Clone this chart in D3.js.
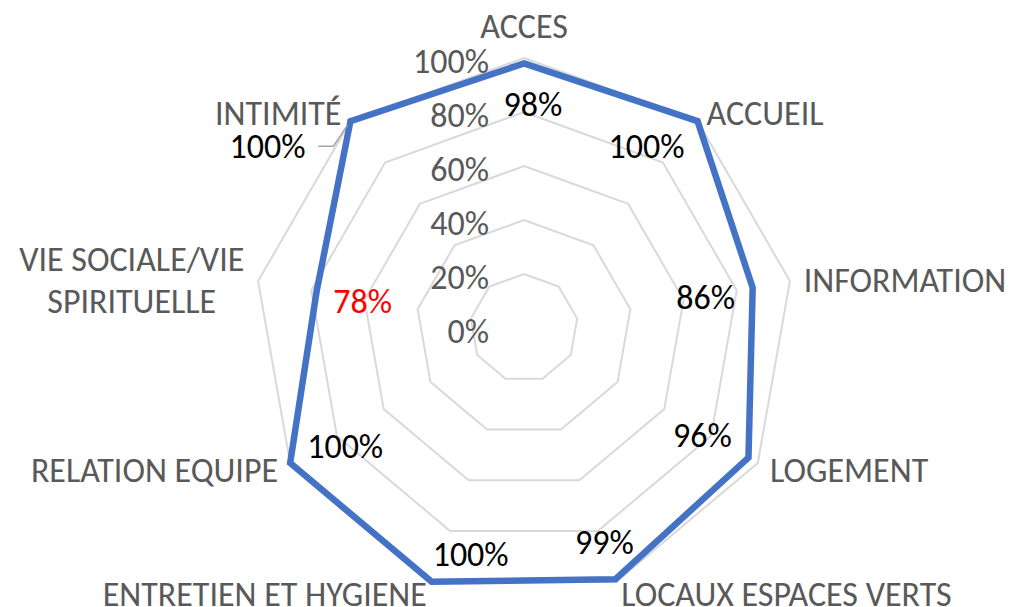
<!DOCTYPE html>
<html>
<head>
<meta charset="utf-8">
<script src="https://cdn.jsdelivr.net/npm/d3@7"></script>
<style>
  body { margin: 0; background: #fff; }
  text { font-family: Carlito, Calibri, "Liberation Sans", sans-serif; }
</style>
</head>
<body>
<script>
// data
var categories = ["ACCES", "ACCUEIL", "INFORMATION", "LOGEMENT", "LOCAUX ESPACES VERTS",
    "ENTRETIEN ET HYGIENE", "RELATION EQUIPE", "VIE SOCIALE/VIE SPIRITUELLE", "INTIMITÉ"];
var values = [0.98, 1.00, 0.86, 0.96, 0.99, 1.00, 1.00, 0.78, 1.00];
var tickValues = [0, 0.2, 0.4, 0.6, 0.8, 1.0];
var lowMark = 0.8;   // labels under this are shown in red

var width = 1012;
var height = 607;
var cx = 524, cy = 328;
var radius = 270;
var fontSize = 34;

// where each data label sits, relative to its point (moved by hand in the original)
var labelNudge = [[9, 42], [-51, 26], [-47, 10], [-46, -21], [-11, -36], [39, -27], [55, -16], [46, 11], [-83, 26]];
var leaderFor = 8;

var svg = d3.select("body").append("svg")
    .attr("width", width)
    .attr("height", height);

var chart = svg.append("g").attr("transform", `translate(${cx}, ${cy})`);

var rScale = d3.scaleLinear().domain([0, 1]).range([0, radius]);
var aScale = d3.scaleLinear().domain([0, categories.length]).range([0, 2 * Math.PI]);
var fmt = d3.format(".0%");

var ring = d3.lineRadial()
    .angle(function(d, i) { return aScale(i); })
    .radius(function(d) { return rScale(d); })
    .curve(d3.curveLinearClosed);

//grid
chart.selectAll(".grid")
    .data(tickValues.filter(function(t) { return t > 0; }))
    .enter().append("path")
    .attr("class", "grid")
    .attr("d", function(t) { return ring(categories.map(function() { return t; })); })
    .attr("fill", "none")
    .attr("stroke", "#d9d9d9")
    .attr("stroke-width", 2);

//tick labels
chart.selectAll(".tick")
    .data(tickValues)
    .enter().append("text")
    .attr("class", "tick")
    .attr("x", -35)
    .attr("y", function(t) { return -rScale(t) + 4; })
    .attr("dy", "0.32em")
    .attr("text-anchor", "end")
    .attr("fill", "#595959")
    .style("font-size", fontSize + "px")
    .text(function(t) { return fmt(t); });

//series
chart.append("path")
    .datum(values)
    .attr("d", ring)
    .attr("fill", "none")
    .attr("stroke", "#4472c4")
    .attr("stroke-width", 6.5)
    .attr("stroke-linejoin", "miter");

//category labels
categories.forEach(function(c, i) {
    var a = aScale(i);
    var p = d3.pointRadial(a, radius);
    var sx = Math.sin(a), sy = -Math.cos(a);
    var anchor = Math.abs(sx) < 0.1 ? "middle" : (sx > 0 ? "start" : "end");
    var x = p[0] + 14 * sx;
    var y = p[1] + 12 * sy + 2;
    if (anchor == "middle") y += (sy < 0 ? -1 : 1) * fontSize * 0.6;

    var t = chart.append("text")
        .attr("class", "cat")
        .attr("fill", "#595959")
        .style("font-size", fontSize + "px");

    var room = anchor == "end" ? cx + x - 10 : width - 4 - (cx + x);
    t.text(c);
    if (anchor == "middle" || t.node().getComputedTextLength() <= room) {
        t.attr("x", x).attr("y", y).attr("dy", "0.32em").attr("text-anchor", anchor);
        return;
    }
    // wrap into lines that fit
    var words = c.split(" "), lines = [], line = [];
    words.forEach(function(w) {
        line.push(w);
        t.text(line.join(" "));
        if (t.node().getComputedTextLength() > room && line.length > 1) {
            line.pop();
            lines.push(line.join(" "));
            line = [w];
        }
    });
    lines.push(line.join(" "));
    var maxW = 0;
    lines.forEach(function(l) {
        t.text(l);
        maxW = Math.max(maxW, t.node().getComputedTextLength());
    });
    t.text(null);
    var lh = 42;
    var mid = anchor == "end" ? x - maxW / 2 : x + maxW / 2;
    lines.forEach(function(l, k) {
        t.append("tspan")
            .attr("x", mid)
            .attr("y", y + (k - (lines.length - 1) / 2) * lh)
            .attr("dy", "0.32em")
            .attr("text-anchor", "middle")
            .text(l);
    });
});

//data labels
values.forEach(function(v, i) {
    var p = d3.pointRadial(aScale(i), rScale(v));
    var lx = p[0] + labelNudge[i][0], ly = p[1] + labelNudge[i][1];
    var t = chart.append("text")
        .attr("class", "val")
        .attr("x", lx)
        .attr("y", ly)
        .attr("dy", "0.32em")
        .attr("text-anchor", "middle")
        .attr("fill", v < lowMark ? "#ff0000" : "#000000")
        .style("font-size", fontSize + "px")
        .text(fmt(v));
    if (i == leaderFor) {
        var right = lx + t.node().getComputedTextLength() / 2;
        chart.append("path")
            .attr("d", d3.line()([[right + 13, ly - 1], [right + 28, ly - 1], [p[0] - 3, p[1] + 4]]))
            .attr("fill", "none")
            .attr("stroke", "#a6a6a6")
            .attr("stroke-width", 1.5);
    }
});
</script>
</body>
</html>
